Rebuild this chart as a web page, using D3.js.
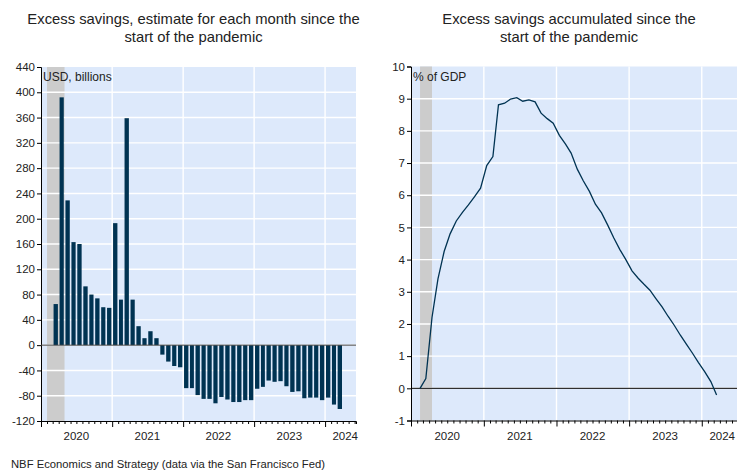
<!DOCTYPE html>
<html><head><meta charset="utf-8">
<script src="https://cdn.jsdelivr.net/npm/d3@7"></script>
<style>
html,body{margin:0;padding:0;background:#fff;}
svg text{font-family:"Liberation Sans",Arial,sans-serif;fill:#222;}
</style></head>
<body>
<svg id="c" width="737" height="471"></svg>
<script>
// ---- data ----
const months = ["2020-02","2020-03","2020-04","2020-05","2020-06","2020-07","2020-08","2020-09","2020-10","2020-11","2020-12",
"2021-01","2021-02","2021-03","2021-04","2021-05","2021-06","2021-07","2021-08","2021-09","2021-10","2021-11","2021-12",
"2022-01","2022-02","2022-03","2022-04","2022-05","2022-06","2022-07","2022-08","2022-09","2022-10","2022-11","2022-12",
"2023-01","2023-02","2023-03","2023-04","2023-05","2023-06","2023-07","2023-08","2023-09","2023-10","2023-11","2023-12",
"2024-01","2024-02","2024-03"];
const monthlyExcess = [null,65,392,229,163,160,93,80,74,60,59,
193,72,359,72,30,11,22,11,-15,-26,-33,-35,
-68,-68,-79,-85,-85,-92,-82,-86,-90,-90,-87,-87,
-69,-66,-56,-58,-57,-65,-74,-73,-84,-83,-83,-87,
-83,-94,-101];
const accumulatedPctGDP = [0,0.3,2.2,3.4,4.25,4.8,5.2,5.47,5.7,5.96,6.22,
6.92,7.2,8.81,8.86,8.99,9.03,8.92,8.96,8.9,8.55,8.38,8.24,
7.86,7.59,7.31,6.81,6.45,6.12,5.72,5.45,5.07,4.68,4.31,4.0,
3.65,3.42,3.24,3.05,2.79,2.53,2.24,1.96,1.65,1.37,1.09,0.8,
0.52,0.21,-0.21];
const recession = ["2020-02","2020-04"];
const leftTicks = [-120,-80,-40,0,40,80,120,160,200,240,280,320,360,400,440];
const rightTicks = [-1,0,1,2,3,4,5,6,7,8,9,10];
const yearLabels = ["2020","2021","2022","2023","2024"];
const titleLeft = ["Excess savings, estimate for each month since the","start of the pandemic"];
const titleRight = ["Excess savings accumulated since the","start of the pandemic"];
const unitLeft = "USD, billions";
const unitRight = "% of GDP";
const source = "NBF Economics and Strategy (data via the San Francisco Fed)";

// ---- styles ----
const BG = "#dde9fb", NAVY = "#003352", GREY = "#cccccc";
const FONT = '"Liberation Sans",Arial,sans-serif';
const parse = d3.timeParse("%Y-%m");
const svg = d3.select("#c");

function panel(opt){
  const g = svg.append("g");
  const x = d3.scaleTime().domain([new Date(2020,0,1), opt.xEnd]).range([opt.x0, opt.x1]);
  const y = d3.scaleLinear().domain(opt.yDomain).range([opt.yBottom, opt.yTop]);
  g.append("rect").attr("x",opt.x0).attr("y",opt.yTop).attr("width",opt.x1-opt.x0).attr("height",opt.yBottom-opt.yTop).attr("fill",BG);
  const rs = parse(recession[0]), re = d3.timeMonth.offset(parse(recession[1]),1);
  let bx0, bx1;
  if(opt.mid){ bx0 = x(midMonth(rs)); bx1 = x(midMonth(parse(recession[1]))); }
  else { bx0 = x(rs); bx1 = x(re); }
  g.append("rect").attr("x",bx0).attr("y",opt.yTop).attr("width",bx1-bx0).attr("height",opt.yBottom-opt.yTop).attr("fill",GREY);
  g.selectAll(".hg").data(opt.ticks.filter(t=>t!==opt.yDomain[0] && t!==opt.yDomain[1])).enter().append("line")
    .attr("x1",opt.x0).attr("x2",opt.x1).attr("y1",d=>y(d)).attr("y2",d=>y(d))
    .attr("stroke","#fff").attr("stroke-width",1.4);
  const years = [2021,2022,2023,2024].map(v=>new Date(v,0,1));
  g.selectAll(".vg").data(years).enter().append("line")
    .attr("x1",d=>x(d)).attr("x2",d=>x(d)).attr("y1",opt.yTop).attr("y2",opt.yBottom)
    .attr("stroke","#fff").attr("stroke-width",1.4);
  g.append("text").attr("x",opt.x0+2).attr("y",opt.yTop+14).attr("font-size",12).text(opt.unit);
  const ya = d3.axisLeft(y).tickValues(opt.ticks).tickSize(4).tickPadding(2).tickFormat(d=>String(d));
  const yg = g.append("g").attr("transform",`translate(${opt.x0},0)`).call(ya);
  yg.select(".domain").attr("stroke","#000");
  yg.selectAll(".tick line").attr("stroke","#000");
  yg.selectAll(".tick text").attr("font-size",11.5).attr("fill","#222").style("font-family",FONT);
  const allMonths = d3.timeMonth.range(new Date(2020,0,1), opt.xEnd);
  const xa = d3.axisBottom(x).tickValues(allMonths).tickSize(3).tickFormat("");
  const xg = g.append("g").attr("transform",`translate(0,${opt.yBottom})`).call(xa);
  xg.select(".domain").attr("stroke","#000");
  xg.selectAll(".tick line").attr("stroke","#000").attr("y2",d=>d.getMonth()===0?6:3);
  yearLabels.forEach(yl=>{
    const mid = x(new Date(+yl,6,1));
    const t = g.append("text").attr("y",opt.yBottom+19).attr("font-size",11.5).text(yl);
    const lim = Math.min(opt.x1+2, 735);
    if(mid + 13 > lim){ t.attr("x",lim).attr("text-anchor","end"); }
    else { t.attr("x",mid).attr("text-anchor","middle"); }
  });
  const tcx = (opt.x0+opt.x1)/2 - 5;
  opt.title.forEach((s,i)=>{
    g.append("text").attr("x",tcx).attr("y",24+i*18).attr("text-anchor","middle").attr("font-size",14.8).text(s);
  });
  return {g,x,y};
}
function midMonth(d){ return new Date(d.getFullYear(), d.getMonth(), 15, 12); }

// ---- left panel ----
const L = panel({x0:41,x1:356,yTop:67,yBottom:421,yDomain:[-120,440],ticks:leftTicks,
  xEnd:new Date(2024,5,8),unit:unitLeft,title:titleLeft,mid:false});
const barData = months.map((m,i)=>({d:parse(m),v:monthlyExcess[i]})).filter(o=>o.v!==null);
L.g.selectAll(".bar").data(barData).enter().append("rect")
  .attr("x",o=>{const a=L.x(o.d), b=L.x(d3.timeMonth.offset(o.d,1)); return a+(b-a)*0.15;})
  .attr("width",o=>{const a=L.x(o.d), b=L.x(d3.timeMonth.offset(o.d,1)); return (b-a)*0.72;})
  .attr("y",o=>L.y(Math.max(0,o.v)))
  .attr("height",o=>Math.abs(L.y(o.v)-L.y(0)))
  .attr("fill",NAVY);
L.g.append("line").attr("x1",41).attr("x2",356).attr("y1",L.y(0)).attr("y2",L.y(0)).attr("stroke","#444").attr("stroke-width",1);

// ---- right panel ----
const R = panel({x0:411,x1:737,yTop:66.5,yBottom:420.5,yDomain:[-1,10],ticks:rightTicks,
  xEnd:new Date(2024,5,26),unit:unitRight,title:titleRight,mid:true});
R.g.append("line").attr("x1",411).attr("x2",737).attr("y1",R.y(0)).attr("y2",R.y(0)).attr("stroke","#000").attr("stroke-width",1);
const lineData = months.map((m,i)=>({d:midMonth(parse(m)),v:accumulatedPctGDP[i]}));
R.g.append("path").datum(lineData)
  .attr("d",d3.line().x(o=>R.x(o.d)).y(o=>R.y(o.v)))
  .attr("fill","none").attr("stroke",NAVY).attr("stroke-width",1.3);

svg.append("text").attr("x",11).attr("y",468).attr("font-size",11.25).text(source);
</script>
</body></html>
